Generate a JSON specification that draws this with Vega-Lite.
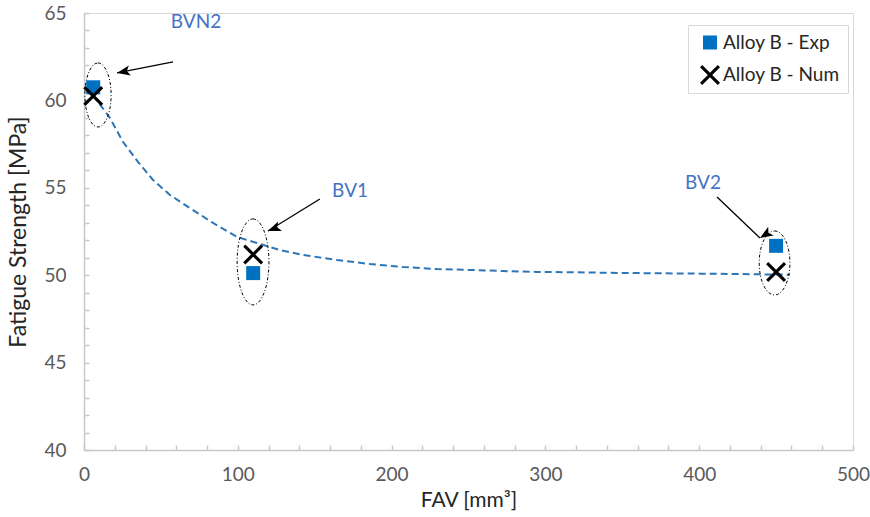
{
  "$schema": "https://vega.github.io/schema/vega-lite/v6.json",
  "width": 769,
  "height": 437,
  "autosize": {"type": "none"},
  "padding": {"left": 84, "top": 13, "right": 17, "bottom": 67},
  "background": "white",
  "config": {
    "font": "Lato",
    "view": {"stroke": "#d9d9d9", "strokeWidth": 1},
    "axis": {
      "grid": false,
      "domainColor": "#c8c8c8",
      "domainWidth": 1.5,
      "tickColor": "#c8c8c8",
      "tickWidth": 1.5,
      "tickSize": -5,
      "labelColor": "#595959",
      "labelFont": "Lato",
      "labelFontSize": 19,
      "labelOverlap": false,
      "labelFlush": false,
      "titleFont": "Lato",
      "titleFontSize": 21,
      "titleFontWeight": "normal",
      "titleColor": "#262626"
    },
    "legend": {
      "labelFont": "Lato",
      "labelFontSize": 19,
      "labelColor": "#262626"
    }
  },
  "datasets": {
    "points": [
      {"series": "Alloy B - Exp", "fav": 6, "fs": 60.75},
      {"series": "Alloy B - Exp", "fav": 110, "fs": 50.12},
      {"series": "Alloy B - Exp", "fav": 450, "fs": 51.68},
      {"series": "Alloy B - Num", "fav": 6, "fs": 60.25},
      {"series": "Alloy B - Num", "fav": 110, "fs": 51.18},
      {"series": "Alloy B - Num", "fav": 450, "fs": 50.18}
    ],
    "trend": [
      {"fav": 5.9, "fs": 60.31},
      {"fav": 16.9, "fs": 58.99},
      {"fav": 25.4, "fs": 57.62},
      {"fav": 35.1, "fs": 56.48},
      {"fav": 44.9, "fs": 55.45},
      {"fav": 55.9, "fs": 54.59},
      {"fav": 68.9, "fs": 53.84},
      {"fav": 83.9, "fs": 52.99},
      {"fav": 99.5, "fs": 52.19},
      {"fav": 112.5, "fs": 51.84},
      {"fav": 127.4, "fs": 51.44},
      {"fav": 142.4, "fs": 51.16},
      {"fav": 164.5, "fs": 50.87},
      {"fav": 186.0, "fs": 50.64},
      {"fav": 207.4, "fs": 50.47},
      {"fav": 229.5, "fs": 50.35},
      {"fav": 251.0, "fs": 50.3},
      {"fav": 272.4, "fs": 50.24},
      {"fav": 294.5, "fs": 50.19},
      {"fav": 314.0, "fs": 50.17},
      {"fav": 348.5, "fs": 50.13},
      {"fav": 400.5, "fs": 50.09},
      {"fav": 459.0, "fs": 50.03}
    ],
    "labels": [
      {"label": "BVN2", "fav": 72.8, "fs": 64.5},
      {"label": "BV1", "fav": 173.0, "fs": 54.82},
      {"label": "BV2", "fav": 402.5, "fs": 55.27}
    ],
    "arrows": [
      {"label": "BVN2", "fav": 21.5, "fs": 61.57, "fav2": 57.9, "fs2": 62.2},
      {"label": "BV1", "fav": 119.6, "fs": 52.53, "fav2": 153.4, "fs2": 54.36},
      {"label": "BV2", "fav": 439.5, "fs": 52.13, "fav2": 411.6, "fs2": 54.47}
    ],
    "ellipses": [
      {"label": "BVN2", "fav": 9.1, "fs": 60.31},
      {"label": "BV1", "fav": 109.9, "fs": 50.76},
      {"label": "BV2", "fav": 449.0, "fs": 50.7}
    ]
  },
  "encoding": {
    "x": {
      "field": "fav", "type": "quantitative",
      "scale": {"domain": [0, 500], "nice": false, "zero": false},
      "axis": {
        "title": "FAV [mm³]",
        "values": [0, 20, 40, 60, 80, 100, 120, 140, 160, 180, 200, 220, 240, 260, 280, 300, 320, 340, 360, 380, 400, 420, 440, 460, 480, 500],
        "labelExpr": "datum.value % 100 === 0 ? datum.label : ''",
        "labelPadding": 20,
        "titleX": 384.5, "titleY": 50, "titleBaseline": "middle", "titleAlign": "center"
      }
    },
    "y": {
      "field": "fs", "type": "quantitative",
      "scale": {"domain": [40, 65], "nice": false, "zero": false},
      "axis": {
        "title": "Fatigue Strength [MPa]",
        "titleFontSize": 23,
        "values": [40, 41, 42, 43, 44, 45, 46, 47, 48, 49, 50, 51, 52, 53, 54, 55, 56, 57, 58, 59, 60, 61, 62, 63, 64, 65],
        "labelExpr": "datum.value % 5 === 0 ? datum.label : ''",
        "labelPadding": 23,
        "titleX": -66, "titleY": 218.5, "titleBaseline": "middle", "titleAlign": "center", "titleAngle": -90
      }
    }
  },
  "layer": [
    {
      "data": {"name": "trend"},
      "mark": {"type": "line", "color": "#2E75B6", "strokeWidth": 2, "strokeDash": [7, 4]}
    },
    {
      "data": {"name": "ellipses"},
      "transform": [{"filter": "datum.label === 'BVN2'"}],
      "mark": {"type": "point", "filled": false, "stroke": "black", "strokeWidth": 1, "strokeDash": [3, 2, 1, 2], "opacity": 1, "size": 4096,
        "shape": "M0,-1C0.226,-1 0.41,-0.552 0.41,0C0.41,0.552 0.226,1 0,1C-0.226,1 -0.41,0.552 -0.41,0C-0.41,-0.552 -0.226,-1 0,-1Z"}
    },
    {
      "data": {"name": "ellipses"},
      "transform": [{"filter": "datum.label === 'BV1'"}],
      "mark": {"type": "point", "filled": false, "stroke": "black", "strokeWidth": 1, "strokeDash": [3, 2, 1, 2], "opacity": 1, "size": 7396,
        "shape": "M0,-1C0.204,-1 0.37,-0.552 0.37,0C0.37,0.552 0.204,1 0,1C-0.204,1 -0.37,0.552 -0.37,0C-0.37,-0.552 -0.204,-1 0,-1Z"}
    },
    {
      "data": {"name": "ellipses"},
      "transform": [{"filter": "datum.label === 'BV2'"}],
      "mark": {"type": "point", "filled": false, "stroke": "black", "strokeWidth": 1, "strokeDash": [3, 2, 1, 2], "opacity": 1, "size": 4096,
        "shape": "M0,-1C0.265,-1 0.48,-0.552 0.48,0C0.48,0.552 0.265,1 0,1C-0.265,1 -0.48,0.552 -0.48,0C-0.48,-0.552 -0.265,-1 0,-1Z"}
    },
    {
      "data": {"name": "points"},
      "mark": {"type": "point", "filled": true, "opacity": 1, "strokeWidth": 0},
      "encoding": {
        "color": {
          "field": "series", "type": "nominal",
          "scale": {"domain": ["Alloy B - Exp", "Alloy B - Num"], "range": ["#0070C0", "#000000"]},
          "legend": {
            "title": null,
            "orient": "none",
            "legendX": 604,
            "legendY": 12,
            "strokeColor": "#d9d9d9",
            "fillColor": "white",
            "padding": 8,
            "rowPadding": 12,
            "symbolSize": 180,
            "symbolStrokeWidth": 0,
            "symbolOffset": 4,
            "labelOffset": 3,
            "encode": {"symbols": {"update": {"size": {"value": 180}}}}
          }
        },
        "shape": {
          "field": "series", "type": "nominal",
          "scale": {
            "domain": ["Alloy B - Exp", "Alloy B - Num"],
            "range": ["square", "M0,-0.22L0.78,-1L1,-0.78L0.22,0L1,0.78L0.78,1L0,0.22L-0.78,1L-1,0.78L-0.22,0L-1,-0.78L-0.78,-1Z"]
          }
        },
        "size": {
          "field": "series", "type": "nominal", "legend": null,
          "scale": {"domain": ["Alloy B - Exp", "Alloy B - Num"], "range": [196, 400]}
        }
      }
    },
    {
      "data": {"name": "arrows"},
      "mark": {"type": "rule", "color": "black", "strokeWidth": 1.3},
      "encoding": {
        "x2": {"field": "fav2"},
        "y2": {"field": "fs2"}
      }
    },
    {
      "data": {"name": "arrows"},
      "mark": {"type": "point", "filled": true, "color": "black", "opacity": 1, "strokeWidth": 0, "size": 300, "shape": "M0,0L0.6,1.5L0,1.15L-0.6,1.5Z"},
      "encoding": {
        "angle": {
          "field": "label", "type": "nominal", "legend": null,
          "scale": {"domain": ["BVN2", "BV1", "BV2"], "range": [259, 238, 134]}
        }
      }
    },
    {
      "data": {"name": "labels"},
      "mark": {"type": "text", "color": "#4472C4", "fontSize": 19, "font": "Lato", "align": "center", "baseline": "middle"},
      "encoding": {
        "text": {"field": "label", "type": "nominal"}
      }
    }
  ]
}
